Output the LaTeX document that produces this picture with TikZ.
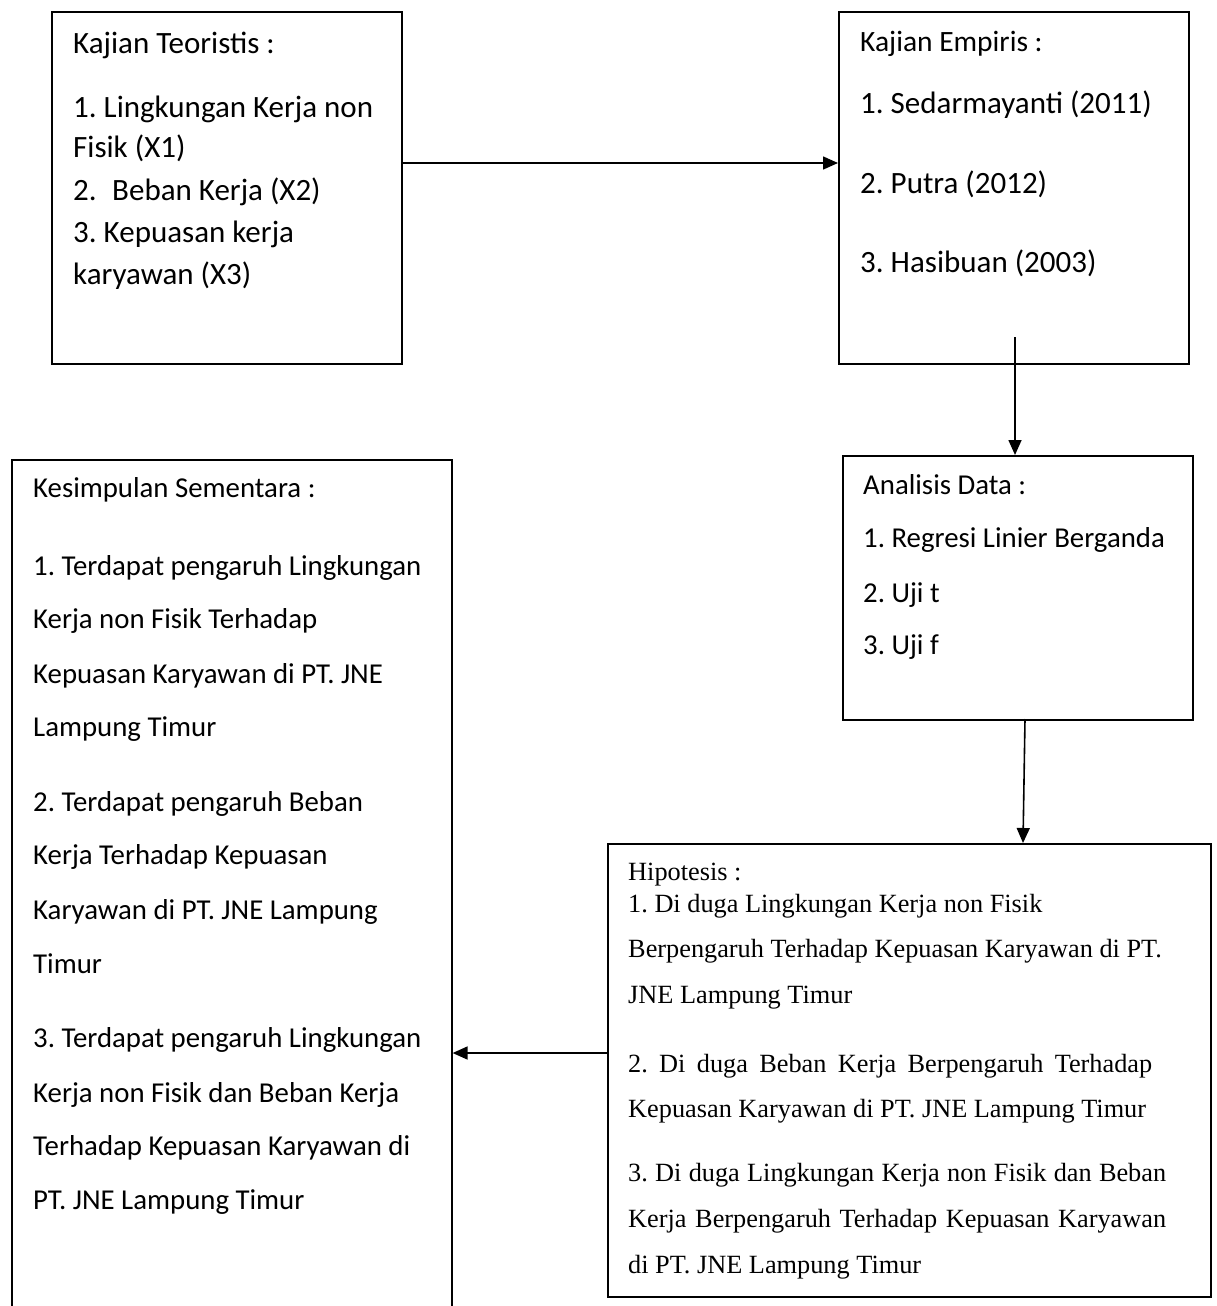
\documentclass[tikz,border=0pt]{standalone}
\usepackage{fontspec}
\setmainfont{Carlito}
\newfontfamily\tnr{Liberation Serif}
\usetikzlibrary{arrows.meta}
\frenchspacing
\begin{document}
\begin{tikzpicture}[x=1pt,y=1pt,
  box/.style={draw=black, line width=1.6pt, anchor=north west, inner sep=0pt},
  tA/.style={anchor=base west, inner sep=0pt, font=\fontsize{31}{36}\selectfont},
  tB/.style={anchor=base west, inner sep=0pt, font=\fontsize{28.8}{34}\selectfont},
  tH/.style={anchor=base west, inner sep=0pt, font=\tnr\fontsize{26.3}{31}\selectfont},
  arr/.style={line width=1.6pt, -{Triangle[length=15pt,width=13pt]}}]
\useasboundingbox (0,0) rectangle (1216,-1306);
\clip (0,0) rectangle (1216,-1306);
% boxes
\node[box, minimum width=350pt, minimum height=352pt] (teo) at (51,-11) {};
\node[box, minimum width=350pt, minimum height=352pt] (emp) at (838,-11) {};
\node[box, minimum width=350pt, minimum height=264pt] (ana) at (842,-455) {};
\node[box, minimum width=440pt, minimum height=870pt] (kes) at (11,-459) {};
\node[box, minimum width=603pt, minimum height=453pt] (hip) at (607,-843) {};
% Kajian Teoristis
\node[tA] (t0) at (73,-53) {Kajian Teoristis :};
\node[tA] (t1) at (73,-117) {1. Lingkungan Kerja non};
\node[tA] (t2) at (73,-157) {Fisik (X1)};
\node[tA] (t3) at (73,-200) {2.\hspace{0.5em}Beban Kerja (X2)};
\node[tA] (t4) at (73,-242) {3. Kepuasan kerja};
\node[tA] (t5) at (73,-284) {karyawan (X3)};
% Kajian Empiris
\node[tA, font=\fontsize{29.5}{35}\selectfont] (e0) at (860,-52) {Kajian Empiris :};
\node[tA] (e1t) at (860,-113) {1. Sedarmayanti (2011)};
\node[tA] (e2t) at (860,-193) {2. Putra (2012)};
\node[tA] (e3t) at (860,-272) {3. Hasibuan (2003)};
% Analisis Data
\node[tB] (a0) at (863,-494) {Analisis Data :};
\node[tB] (a1t) at (863,-547) {1. Regresi Linier Berganda};
\node[tB] (a2t) at (863,-602) {2. Uji t};
\node[tB] (a3t) at (863,-654) {3. Uji f};
% Kesimpulan Sementara
\node[tB] (k0) at (33,-497) {Kesimpulan Sementara :};
\node[tB] (k1) at (33,-575) {1. Terdapat pengaruh Lingkungan};
\node[tB] (k2) at (33,-628) {Kerja non Fisik Terhadap};
\node[tB] (k3) at (33,-683) {Kepuasan Karyawan di PT. JNE};
\node[tB] (k4) at (33,-736) {Lampung Timur};
\node[tB] (k5) at (33,-811) {2. Terdapat pengaruh Beban};
\node[tB] (k6) at (33,-864) {Kerja Terhadap Kepuasan};
\node[tB] (k7) at (33,-919) {Karyawan di PT. JNE Lampung};
\node[tB] (k8) at (33,-973) {Timur};
\node[tB] (k9) at (33,-1047) {3. Terdapat pengaruh Lingkungan};
\node[tB] (k10) at (33,-1102) {Kerja non Fisik dan Beban Kerja};
\node[tB] (k11) at (33,-1155) {Terhadap Kepuasan Karyawan di};
\node[tB] (k12) at (33,-1209) {PT. JNE Lampung Timur};
% Hipotesis
\node[tH] (h0) at (628,-880) {Hipotesis :};
\node[tH] (h1t) at (628,-912) {1. Di duga Lingkungan Kerja non Fisik};
\node[tH] (h2t) at (628,-957) {Berpengaruh Terhadap Kepuasan Karyawan di PT.};
\node[tH] (h3t) at (628,-1003) {JNE Lampung Timur};
\node[tH] (h4t) at (628,-1072) {\makebox[524pt][s]{2. Di duga Beban Kerja Berpengaruh Terhadap}};
\node[tH] (h5t) at (628,-1117) {Kepuasan Karyawan di PT. JNE Lampung Timur};
\node[tH] (h6t) at (628,-1181) {\makebox[538pt][s]{3. Di duga Lingkungan Kerja non Fisik dan Beban}};
\node[tH] (h7t) at (628,-1227) {\makebox[538pt][s]{Kerja Berpengaruh Terhadap Kepuasan Karyawan}};
\node[tH] (h8t) at (628,-1273) {di PT. JNE Lampung Timur};
% connectors
\coordinate (y0) at (0,-163);
\draw[arr] (teo.east |- y0) -- (emp.west |- y0);
\coordinate (es) at (1015,-337);
\draw[arr] (es) -- (es |- ana.north);
\coordinate (as) at (1025,-719);
\coordinate (ht) at (1023,-843);
\draw[arr] (as) -- (ht);
\coordinate (y1) at (0,-1053);
\draw[arr] (hip.west |- y1) -- (kes.east |- y1);
\end{tikzpicture}
\end{document}
